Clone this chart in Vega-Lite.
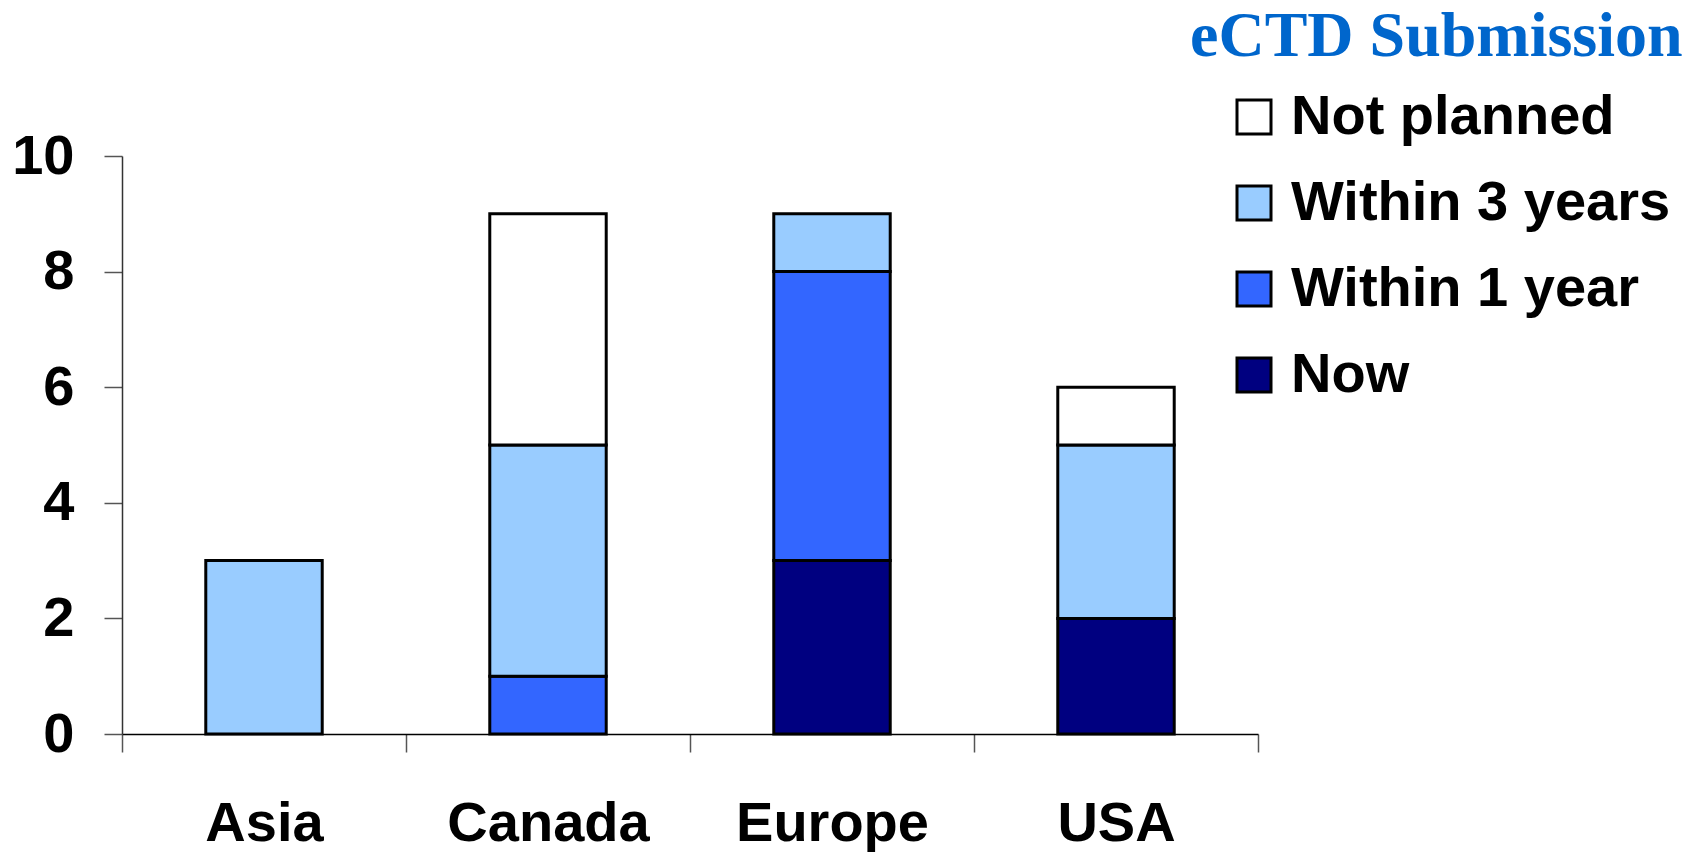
{
  "$schema": "https://vega.github.io/schema/vega-lite/v6.json",
  "autosize": {"type": "none"},
  "width": 1136,
  "height": 578,
  "padding": {"left": 122, "top": 156, "right": 429, "bottom": 118},
  "background": "white",
  "data": {
    "values": [
      {"region": "Asia", "status": "Within 3 years", "stage": 3, "count": 3},
      {"region": "Canada", "status": "Within 1 year", "stage": 2, "count": 1},
      {"region": "Canada", "status": "Within 3 years", "stage": 3, "count": 4},
      {"region": "Canada", "status": "Not planned", "stage": 4, "count": 4},
      {"region": "Europe", "status": "Now", "stage": 1, "count": 3},
      {"region": "Europe", "status": "Within 1 year", "stage": 2, "count": 5},
      {"region": "Europe", "status": "Within 3 years", "stage": 3, "count": 1},
      {"region": "USA", "status": "Now", "stage": 1, "count": 2},
      {"region": "USA", "status": "Within 3 years", "stage": 3, "count": 3},
      {"region": "USA", "status": "Not planned", "stage": 4, "count": 1}
    ]
  },
  "mark": {
    "type": "bar",
    "width": {"band": 0.41},
    "stroke": "black",
    "strokeWidth": 3
  },
  "encoding": {
    "x": {
      "field": "region",
      "type": "nominal",
      "sort": ["Asia", "Canada", "Europe", "USA"],
      "scale": {"paddingInner": 0, "paddingOuter": 0},
      "axis": {
        "title": null,
        "labelAngle": 0,
        "tickBand": "extent",
        "tickSize": 18,
        "tickColor": "#555555",
        "tickWidth": 1.5,
        "domainColor": "black",
        "domainWidth": 1.5,
        "labelFont": "Liberation Sans",
        "labelFontWeight": "bold",
        "labelFontSize": 56,
        "labelColor": "black",
        "labelLimit": 1000,
        "labelPadding": 44
      }
    },
    "y": {
      "field": "count",
      "type": "quantitative",
      "aggregate": "sum",
      "stack": "zero",
      "scale": {"domain": [0, 10], "nice": false},
      "axis": {
        "title": null,
        "values": [0, 2, 4, 6, 8, 10],
        "grid": false,
        "tickSize": 18,
        "tickColor": "#555555",
        "tickWidth": 1.5,
        "domainColor": "#333333",
        "domainWidth": 1.5,
        "labelFont": "Liberation Sans",
        "labelFontWeight": "bold",
        "labelFontSize": 56,
        "labelColor": "black",
        "labelPadding": 30
      }
    },
    "order": {"field": "stage", "type": "quantitative", "sort": "ascending"},
    "color": {
      "field": "status",
      "type": "nominal",
      "scale": {
        "domain": ["Now", "Within 1 year", "Within 3 years", "Not planned"],
        "range": ["#000080", "#3366FF", "#99CCFF", "#FFFFFF"]
      },
      "legend": {
        "title": "eCTD Submission",
        "titleFont": "Liberation Serif",
        "titleFontSize": 64,
        "titleFontWeight": "bold",
        "titleColor": "#0066CC",
        "titleLimit": 1000,
        "titlePadding": 20,
        "orient": "none",
        "legendX": 1068,
        "legendY": -151,
        "symbolOffset": 36,
        "values": ["Not planned", "Within 3 years", "Within 1 year", "Now"],
        "symbolType": "square",
        "symbolSize": 1156,
        "symbolStrokeColor": "black",
        "symbolStrokeWidth": 3,
        "symbolOpacity": 1,
        "labelFont": "Liberation Sans",
        "labelFontWeight": "bold",
        "labelFontSize": 56,
        "labelColor": "black",
        "labelOffset": 9,
        "labelLimit": 600,
        "rowPadding": 30
      }
    }
  },
  "config": {"view": {"stroke": null}}
}
